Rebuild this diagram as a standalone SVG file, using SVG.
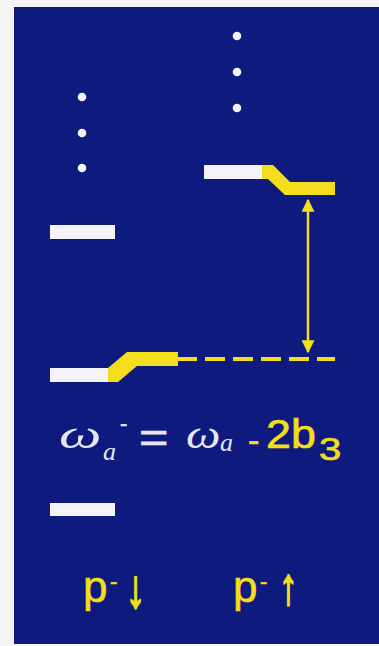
<svg xmlns="http://www.w3.org/2000/svg" width="379" height="646" viewBox="0 0 379 646">
<defs>
<style>
.bg{fill:#0e1a7e}
.w{fill:#f4f4f8}
.y{fill:#f2de1c}
.dot{fill:#f4f4f8}
.eqw{font-family:"Liberation Serif",serif;font-style:italic;fill:#e6e6f2}
.eqs{font-family:"Liberation Sans",Arial,sans-serif;fill:#e6e6f2;stroke:#e6e6f2;stroke-width:0.6}
.eqy{font-family:"Liberation Sans",Arial,sans-serif;fill:#f2de1c;stroke:#f2de1c;stroke-width:0.7}
.lbl{font-family:"Liberation Sans",Arial,sans-serif;fill:#f2de1c;stroke:#f2de1c;stroke-width:0.6}
.arr{font-family:"Liberation Sans",Arial,sans-serif;fill:#f2de1c;stroke:#f2de1c;stroke-width:1.8}
</style>
<marker id="ah" viewBox="0 0 10 10" refX="9" refY="5" markerWidth="13" markerHeight="13" orient="auto-start-reverse" markerUnits="userSpaceOnUse">
<path d="M0,0 L10,5 L0,10 z" fill="#f2de1c"/>
</marker>
</defs>
<rect x="0" y="0" width="379" height="646" fill="#f4f4f4"/>
<rect class="bg" x="14" y="7" width="365" height="637"/>

<g id="dots-left">
<circle class="dot" cx="82" cy="97" r="4.3"/>
<circle class="dot" cx="82" cy="133" r="4.3"/>
<circle class="dot" cx="82" cy="168" r="4.3"/>
</g>
<g id="dots-right">
<circle class="dot" cx="237" cy="36" r="4.3"/>
<circle class="dot" cx="237" cy="72" r="4.3"/>
<circle class="dot" cx="237" cy="108" r="4.3"/>
</g>

<g id="level-right-upper">
<rect class="w" x="204" y="165" width="60" height="14"/>
<polygon class="y" points="262,165 273,165 290,182 335,182 335,195 285,195 268,179 262,179"/>
</g>
<g id="level-left-upper">
<rect class="w" x="50" y="225" width="65" height="14"/>
</g>
<g id="level-left-lower">
<rect class="w" x="50" y="368" width="60" height="14"/>
<polygon class="y" points="108,368 127,352 178,352 178,366 137,366 118,382 108,382"/>
</g>
<g id="level-left-bottom">
<rect class="w" x="50" y="503" width="65" height="13"/>
</g>

<g id="connectors">
<line x1="177" y1="359" x2="335" y2="359" stroke="#f2de1c" stroke-width="4" stroke-dasharray="20 8"/>
<line x1="308" y1="200" x2="308" y2="352" stroke="#f2de1c" stroke-width="2.5" marker-start="url(#ah)" marker-end="url(#ah)"/>
</g>

<g id="equation">
<text class="eqw" transform="translate(59,448) scale(1.5,1)" font-size="40">ω</text>
<text class="eqw" x="103" y="460" font-size="26">a</text>
<text class="eqs" x="120" y="431" font-size="22">-</text>
<text class="eqs" transform="translate(139,452) scale(1.2,1)" font-size="42">=</text>
<text class="eqw" transform="translate(186,448) scale(1.22,1)" font-size="40">ω</text>
<text class="eqw" x="220" y="451" font-size="26">a</text>
<text class="eqy" x="248" y="452" font-size="34">-</text>
<text class="eqy" transform="translate(266,448) scale(1.12,1)" font-size="40">2b</text>
<text class="eqy" transform="translate(319,460) scale(1.25,1)" font-size="32">3</text>
</g>

<g id="label-down">
<text class="lbl" x="83" y="602" font-size="44">p<tspan x="110" y="589" font-size="22">-</tspan></text>
<text class="arr" transform="translate(126,607) scale(0.72,1)" font-size="54">↓</text>
</g>
<g id="label-up">
<text class="lbl" x="233" y="602" font-size="44">p<tspan x="260" y="589" font-size="22">-</tspan></text>
<text class="arr" transform="translate(279,604) scale(0.72,1)" font-size="52">↑</text>
</g>
</svg>
